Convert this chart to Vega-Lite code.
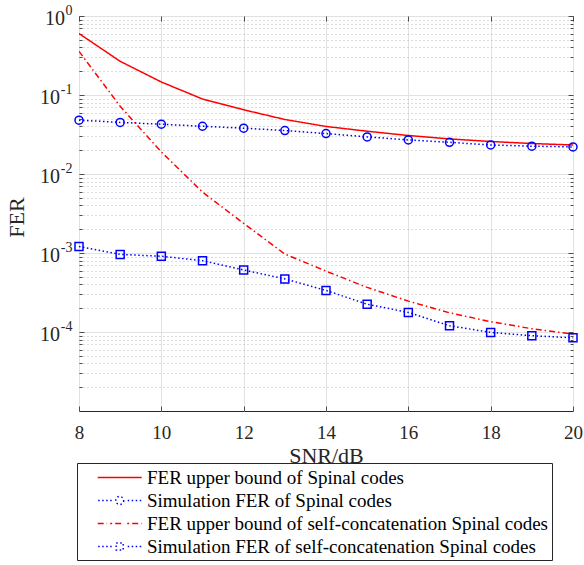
{
  "$schema": "https://vega.github.io/schema/vega-lite/v6.json",
  "autosize": "none",
  "width": 494,
  "height": 395,
  "padding": {"left": 79, "top": 16, "right": 11, "bottom": 154},
  "config": {
    "font": "Liberation Serif",
    "view": {"stroke": "#262626", "strokeWidth": 1},
    "axis": {"labelColor": "#262626", "titleColor": "#262626", "tickColor": "#262626", "domain": false, "titleFontWeight": "normal"}
  },
  "data": {
    "values": [
      {"snr": 8, "fer": 0.60, "series": "FER upper bound of Spinal codes"},
      {"snr": 9, "fer": 0.267, "series": "FER upper bound of Spinal codes"},
      {"snr": 10, "fer": 0.146, "series": "FER upper bound of Spinal codes"},
      {"snr": 11, "fer": 0.089, "series": "FER upper bound of Spinal codes"},
      {"snr": 12, "fer": 0.065, "series": "FER upper bound of Spinal codes"},
      {"snr": 13, "fer": 0.049, "series": "FER upper bound of Spinal codes"},
      {"snr": 14, "fer": 0.040, "series": "FER upper bound of Spinal codes"},
      {"snr": 15, "fer": 0.0348, "series": "FER upper bound of Spinal codes"},
      {"snr": 16, "fer": 0.0307, "series": "FER upper bound of Spinal codes"},
      {"snr": 17, "fer": 0.0278, "series": "FER upper bound of Spinal codes"},
      {"snr": 18, "fer": 0.0258, "series": "FER upper bound of Spinal codes"},
      {"snr": 19, "fer": 0.0243, "series": "FER upper bound of Spinal codes"},
      {"snr": 20, "fer": 0.0233, "series": "FER upper bound of Spinal codes"},
      {"snr": 8, "fer": 0.048, "series": "Simulation FER of Spinal codes"},
      {"snr": 9, "fer": 0.045, "series": "Simulation FER of Spinal codes"},
      {"snr": 10, "fer": 0.0427, "series": "Simulation FER of Spinal codes"},
      {"snr": 11, "fer": 0.0402, "series": "Simulation FER of Spinal codes"},
      {"snr": 12, "fer": 0.038, "series": "Simulation FER of Spinal codes"},
      {"snr": 13, "fer": 0.0355, "series": "Simulation FER of Spinal codes"},
      {"snr": 14, "fer": 0.0325, "series": "Simulation FER of Spinal codes"},
      {"snr": 15, "fer": 0.0295, "series": "Simulation FER of Spinal codes"},
      {"snr": 16, "fer": 0.027, "series": "Simulation FER of Spinal codes"},
      {"snr": 17, "fer": 0.0252, "series": "Simulation FER of Spinal codes"},
      {"snr": 18, "fer": 0.0233, "series": "Simulation FER of Spinal codes"},
      {"snr": 19, "fer": 0.0225, "series": "Simulation FER of Spinal codes"},
      {"snr": 20, "fer": 0.022, "series": "Simulation FER of Spinal codes"},
      {"snr": 8, "fer": 0.357, "series": "FER upper bound of self-concatenation Spinal codes"},
      {"snr": 9, "fer": 0.072, "series": "FER upper bound of self-concatenation Spinal codes"},
      {"snr": 10, "fer": 0.019, "series": "FER upper bound of self-concatenation Spinal codes"},
      {"snr": 11, "fer": 0.0059, "series": "FER upper bound of self-concatenation Spinal codes"},
      {"snr": 12, "fer": 0.00237, "series": "FER upper bound of self-concatenation Spinal codes"},
      {"snr": 13, "fer": 0.00097, "series": "FER upper bound of self-concatenation Spinal codes"},
      {"snr": 14, "fer": 0.00059, "series": "FER upper bound of self-concatenation Spinal codes"},
      {"snr": 15, "fer": 0.000367, "series": "FER upper bound of self-concatenation Spinal codes"},
      {"snr": 16, "fer": 0.000246, "series": "FER upper bound of self-concatenation Spinal codes"},
      {"snr": 17, "fer": 0.000175, "series": "FER upper bound of self-concatenation Spinal codes"},
      {"snr": 18, "fer": 0.000135, "series": "FER upper bound of self-concatenation Spinal codes"},
      {"snr": 19, "fer": 0.00011, "series": "FER upper bound of self-concatenation Spinal codes"},
      {"snr": 20, "fer": 0.000094, "series": "FER upper bound of self-concatenation Spinal codes"},
      {"snr": 8, "fer": 0.00121, "series": "Simulation FER of self-concatenation Spinal codes"},
      {"snr": 9, "fer": 0.00096, "series": "Simulation FER of self-concatenation Spinal codes"},
      {"snr": 10, "fer": 0.00091, "series": "Simulation FER of self-concatenation Spinal codes"},
      {"snr": 11, "fer": 0.0008, "series": "Simulation FER of self-concatenation Spinal codes"},
      {"snr": 12, "fer": 0.00061, "series": "Simulation FER of self-concatenation Spinal codes"},
      {"snr": 13, "fer": 0.00047, "series": "Simulation FER of self-concatenation Spinal codes"},
      {"snr": 14, "fer": 0.000336, "series": "Simulation FER of self-concatenation Spinal codes"},
      {"snr": 15, "fer": 0.000225, "series": "Simulation FER of self-concatenation Spinal codes"},
      {"snr": 16, "fer": 0.000177, "series": "Simulation FER of self-concatenation Spinal codes"},
      {"snr": 17, "fer": 0.00012, "series": "Simulation FER of self-concatenation Spinal codes"},
      {"snr": 18, "fer": 0.0000989, "series": "Simulation FER of self-concatenation Spinal codes"},
      {"snr": 19, "fer": 0.0000897, "series": "Simulation FER of self-concatenation Spinal codes"},
      {"snr": 20, "fer": 0.0000846, "series": "Simulation FER of self-concatenation Spinal codes"}
    ]
  },
  "resolve": {"axis": {"x": "independent", "y": "independent"}},
  "layer": [
    {
      "transform": [{"filter": "datum.series === 'FER upper bound of Spinal codes'"}],
      "mark": {"type": "line", "strokeWidth": 1.5, "clip": true},
      "encoding": {
        "x": {"field": "snr", "type": "quantitative", "scale": {"domain": [8, 20], "nice": false},
          "axis": {"orient": "bottom", "title": "SNR/dB", "titleFontSize": 22, "titleY": 51.5, "titleBaseline": "alphabetic",
            "values": [8, 10, 12, 14, 16, 18, 20], "labelFontSize": 19, "labelPadding": 12, "ticks": false, "tickSize": 0,
            "grid": true, "gridColor": "#e2e2e2", "gridWidth": 1, "labelFlush": false}},
        "y": {"field": "fer", "type": "quantitative", "scale": {"type": "log", "domain": [0.00001, 1], "nice": false},
          "axis": {"orient": "left", "title": "FER", "titleFontSize": 22, "titleX": -56, "titleY": 201, "titleAngle": -90, "titleBaseline": "alphabetic", "titleAlign": "center",
            "values": [1, 0.1, 0.01, 0.001, 0.0001], "labelExpr": "'10'", "labelFontSize": 20, "labelAlign": "right", "labelBaseline": "middle",
            "labelPadding": {"condition": {"test": "datum.value >= 1", "value": 14.5}, "value": 19.5}, "labelOffset": 2,
            "ticks": false, "tickSize": 0, "grid": false, "labelFlush": false}},
        "color": {"field": "series", "type": "nominal",
          "scale": {"domain": ["FER upper bound of Spinal codes", "Simulation FER of Spinal codes", "FER upper bound of self-concatenation Spinal codes", "Simulation FER of self-concatenation Spinal codes"],
                    "range": ["#ff0000", "#0000ff", "#ff0000", "#0000ff"]},
          "legend": {"orient": "none", "legendX": -2, "legendY": 447, "direction": "vertical", "title": null,
            "strokeColor": "#262626", "padding": 3.5, "symbolSize": 400, "symbolStrokeWidth": 1.5, "symbolOffset": 28.2,
            "labelFont": "Liberation Serif", "labelFontSize": 19, "labelColor": "#000000", "labelOffset": 16.3, "labelLimit": 0, "rowPadding": 2,
            "encode": {
              "symbols": {"update": {
                "shape": {"signal": "datum.value === 'FER upper bound of Spinal codes' ? 'M-2.2,0H2.2' : datum.value === 'FER upper bound of self-concatenation Spinal codes' ? 'M-2.2,0H-1.25M-0.95,0H-0.75M-0.45,0H0.45M0.75,0H0.95M1.25,0H2.2' : datum.value === 'Simulation FER of Spinal codes' ? 'M-2.15,0h0.15M-1.75,0h0.15M-1.35,0h0.15M-0.95,0h0.15M0.8,0h0.15M1.2,0h0.15M1.6,0h0.15M2.0,0h0.15M0.4,0A0.4,0.4 0 1,1 -0.4,0A0.4,0.4 0 1,1 0.4,0Z' : 'M-2.15,0h0.15M-1.75,0h0.15M-1.35,0h0.15M-0.95,0h0.15M0.8,0h0.15M1.2,0h0.15M1.6,0h0.15M2.0,0h0.15M-0.35,-0.35H0.35V0.35H-0.35Z'"},
                "fill": {"value": "transparent"},
                "opacity": {"value": 1}
              }},
              "entries": {"update": {"width": {"value": 496}}}
            }}},
        "strokeDash": {"field": "series", "type": "nominal",
          "scale": {"domain": ["FER upper bound of Spinal codes", "Simulation FER of Spinal codes", "FER upper bound of self-concatenation Spinal codes", "Simulation FER of self-concatenation Spinal codes"],
                    "range": [[1, 0], [1.5, 2.5], [6, 3, 1.5, 3], [1.5, 2.5]]},
          "legend": null}
      }
    },
    {
      "transform": [{"filter": "datum.series === 'FER upper bound of self-concatenation Spinal codes'"}],
      "mark": {"type": "line", "strokeWidth": 1.5, "clip": true},
      "encoding": {
        "x": {"field": "snr", "type": "quantitative", "scale": {"domain": [8, 20], "nice": false},
          "axis": {"orient": "bottom", "title": null, "values": [8, 10, 12, 14, 16, 18, 20], "labels": false, "grid": false, "ticks": true, "tickSize": -5, "tickWidth": 0.8}},
        "y": {"field": "fer", "type": "quantitative", "scale": {"type": "log", "domain": [0.00001, 1], "nice": false},
          "axis": {"orient": "left", "title": null, "values": [1, 0.1, 0.01, 0.001, 0.0001], "labelExpr": "'' + round(log(datum.value)/LN10)",
            "labelFontSize": 14, "labelAlign": "right", "labelBaseline": "middle", "labelPadding": 7, "labelOffset": -6,
            "ticks": false, "tickSize": 0, "grid": false, "labelFlush": false}},
        "color": {"field": "series", "type": "nominal"},
        "strokeDash": {"field": "series", "type": "nominal", "legend": null}
      }
    },
    {
      "transform": [{"filter": "datum.series === 'Simulation FER of Spinal codes' || datum.series === 'Simulation FER of self-concatenation Spinal codes'"}],
      "mark": {"type": "line", "strokeWidth": 1.5, "clip": true},
      "encoding": {
        "x": {"field": "snr", "type": "quantitative", "scale": {"domain": [8, 20], "nice": false},
          "axis": {"orient": "top", "title": null, "values": [8, 10, 12, 14, 16, 18, 20], "labels": false, "grid": false, "ticks": true, "tickSize": -5, "tickWidth": 0.8}},
        "y": {"field": "fer", "type": "quantitative", "scale": {"type": "log", "domain": [0.00001, 1], "nice": false},
          "axis": {"orient": "left", "title": null, "labels": false,
            "values": [1, 0.1, 0.01, 0.001, 0.0001, 0.00002, 0.00003, 0.00004, 0.00005, 0.00006, 0.00007, 0.00008, 0.00009, 0.0002, 0.0003, 0.0004, 0.0005, 0.0006, 0.0007, 0.0008, 0.0009, 0.002, 0.003, 0.004, 0.005, 0.006, 0.007, 0.008, 0.009, 0.02, 0.03, 0.04, 0.05, 0.06, 0.07, 0.08, 0.09, 0.2, 0.3, 0.4, 0.5, 0.6, 0.7, 0.8, 0.9],
            "grid": true,
            "gridColor": {"condition": {"test": "abs(log(datum.value)/LN10 - round(log(datum.value)/LN10)) < 0.000001", "value": "#e2e2e2"}, "value": "#b8b8b8"},
            "gridDash": {"condition": {"test": "abs(log(datum.value)/LN10 - round(log(datum.value)/LN10)) < 0.000001", "value": []}, "value": [1, 3]},
            "ticks": true, "tickWidth": 0.8,
            "tickSize": {"condition": {"test": "abs(log(datum.value)/LN10 - round(log(datum.value)/LN10)) < 0.000001", "value": -5}, "value": -3}}},
        "color": {"field": "series", "type": "nominal"},
        "strokeDash": {"field": "series", "type": "nominal", "legend": null}
      }
    },
    {
      "transform": [{"filter": "datum.series === 'Simulation FER of Spinal codes' || datum.series === 'Simulation FER of self-concatenation Spinal codes'"}],
      "mark": {"type": "point", "filled": false, "stroke": "#0000ff", "strokeWidth": 1.5, "opacity": 1},
      "encoding": {
        "x": {"field": "snr", "type": "quantitative", "scale": {"domain": [8, 20], "nice": false}, "axis": null},
        "y": {"field": "fer", "type": "quantitative", "scale": {"type": "log", "domain": [0.00001, 1], "nice": false},
          "axis": {"orient": "right", "title": null, "labels": false, "grid": false,
            "values": [1, 0.1, 0.01, 0.001, 0.0001, 0.00002, 0.00003, 0.00004, 0.00005, 0.00006, 0.00007, 0.00008, 0.00009, 0.0002, 0.0003, 0.0004, 0.0005, 0.0006, 0.0007, 0.0008, 0.0009, 0.002, 0.003, 0.004, 0.005, 0.006, 0.007, 0.008, 0.009, 0.02, 0.03, 0.04, 0.05, 0.06, 0.07, 0.08, 0.09, 0.2, 0.3, 0.4, 0.5, 0.6, 0.7, 0.8, 0.9],
            "ticks": true, "tickWidth": 0.8,
            "tickSize": {"condition": {"test": "abs(log(datum.value)/LN10 - round(log(datum.value)/LN10)) < 0.000001", "value": -5}, "value": -3}}},
        "shape": {"field": "series", "type": "nominal",
          "scale": {"domain": ["Simulation FER of Spinal codes", "Simulation FER of self-concatenation Spinal codes"], "range": ["circle", "square"]},
          "legend": null},
        "size": {"value": 64}
      }
    }
  ]
}
